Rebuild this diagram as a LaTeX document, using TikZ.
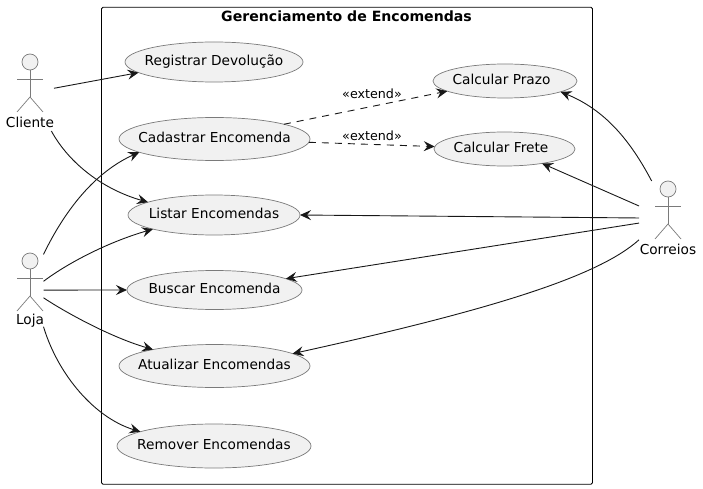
\documentclass[tikz,border=0pt]{standalone}
\usepackage{fontspec}
\setmainfont{DejaVu Sans}
\usetikzlibrary{arrows.meta,shapes.geometric}
\definecolor{ucfill}{HTML}{F1F1F1}
\definecolor{ucline}{HTML}{7A7A7A}
\definecolor{linkcol}{HTML}{181818}
\tikzset{
    usecase/.style={ellipse,draw=ucline,fill=ucfill,line width=.7pt,inner sep=0pt,outer sep=0pt,font=\fontsize{13.7}{15}\selectfont},
    actorbox/.style={rectangle,inner sep=0pt,outer sep=0pt,minimum height=77pt},
    actorline/.style={draw=ucline,line width=.7pt},
    actorlabel/.style={inner sep=0pt,font=\fontsize{13.7}{15}\selectfont},
    link/.style={draw=linkcol,line width=.9pt,-{Stealth[length=11pt,width=10pt,inset=4pt]}},
    extlink/.style={link,dash pattern=on 7pt off 6pt},
    extlabel/.style={inner sep=0pt,font=\fontsize{12.7}{14}\selectfont}
}
\begin{document}
\begin{tikzpicture}[x=1pt,y=-1pt]
    \useasboundingbox (0,0) rectangle (703,489);
    \node[draw=black,line width=.8pt,rounded corners=1.5pt,inner sep=0pt,outer sep=0pt,minimum width=491pt,minimum height=477pt] (frame) at (347,245.75) {};
    \node[inner sep=0pt,font=\fontsize{14.1}{16}\selectfont\bfseries] (frametitle) at (346.5,16) {Gerenciamento de Encomendas};
    % use cases
    \foreach \name/\x/\y/\rx/\ry/\pad/\txt in {regdev/214/62/89/20/0/Registrar Devolução,
        cadastrar/214.5/139/95.5/21.5/0/Cadastrar Encomenda,
        listar/214/215/86/20/0/Listar Encomendas,
        buscar/214.5/290/87.5/19.5/0/Buscar Encomenda,
        atualizar/214.5/366/95.5/21.5/0/Atualizar Encomendas,
        remover/214/446/97/22/0/Remover Encomendas,
        prazo/505/81/72/17/7/Calcular Prazo,
        frete/504.5/149/70.5/17/7/Calcular Frete}
    {
        \node[usecase,minimum width=2*\rx pt,minimum height=2*\ry pt] (\name) at (\x,\y) {\raisebox{-3.5pt}[0pt][0pt]{\makebox[0pt]{\txt\hspace{\pad pt}}}};
    }
    % actors
    \foreach \name/\x/\y/\w/\txt in {cliente/30/62/48/Cliente,loja/30/261/27/Loja,correios/668/189/58/Correios}
    {
        \node[actorbox,minimum width=\w pt] (\name) at (\x,\y+30.5) {};
        \node[actorlabel] (\name label) at (\x,\y+60) {\txt};
        \draw[actorline,fill=ucfill] (\x,\y) circle (8pt);
        \draw[actorline] (\x,\y+8) -- (\x,\y+35);
        \draw[actorline] (\x-13,\y+17) -- (\x+13,\y+17);
        \draw[actorline] (\x-13,\y+50) -- (\x,\y+35) -- (\x+13,\y+50);
    }
    % cliente
    \draw[link] (cliente.10.6) -- (regdev.188.8);
    \draw[link] (cliente.-61.4) .. controls (70,165) and (105,190) .. (listar.169);
    % loja
    \draw[link] (loja.70.7) .. controls (65,210) and (95,172) .. (cadastrar.190.2);
    \draw[link] (loja.37.9) .. controls (65,265) and (105,243) .. (listar.193.3);
    \draw[link] (loja.6.3) -- (buscar.180);
    \draw[link] (loja.-25.7) .. controls (65,312) and (110,337) .. (atualizar.165.6);
    \draw[link] (loja.-69.7) .. controls (58,375) and (95,418) .. (remover.169.1);
    % extend
    \draw[extlink] (cadastrar.12) -- (prazo.190.3);
    \draw[extlink] (cadastrar.-2.4) -- (frete.178.4);
    \node[extlabel] (extprazo) at (372,94) {«extend»};
    \node[extlabel] (extfrete) at (372,136) {«extend»};
    % correios
    \draw[link] (correios.113.8) .. controls (630,140) and (605,110) .. (prazo.-11.9);
    \draw[link] (correios.155.9) -- (frete.-21.5);
    \draw[link] (correios.177) -- (listar.0);
    \draw[link] (correios.187.9) -- (buscar.9.4);
    \draw[link] (correios.215.3) .. controls (600,275) and (500,308) .. (atualizar.9.8);
\end{tikzpicture}
\end{document}
